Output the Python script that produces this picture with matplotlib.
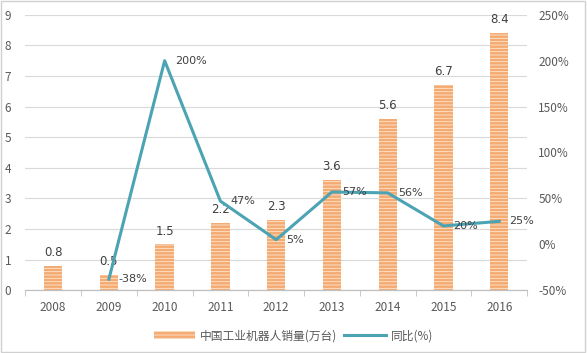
import matplotlib
matplotlib.use("Agg")
import matplotlib.pyplot as plt
import numpy as np
from matplotlib.patches import Rectangle

plt.rcParams['font.family'] = ['Noto Sans CJK SC', 'DejaVu Sans']
plt.rcParams['hatch.linewidth'] = 0.6

years = ['2008', '2009', '2010', '2011', '2012', '2013', '2014', '2015', '2016']
sales = [0.8, 0.5, 1.5, 2.2, 2.3, 3.6, 5.6, 6.7, 8.4]
growth_years = ['2009', '2010', '2011', '2012', '2013', '2014', '2015', '2016']
growth = [-38, 200, 47, 5, 57, 56, 20, 25]

bar_color = '#F4AA70'
line_color = '#4BA3B4'
text_color = '#595959'

fig = plt.figure(figsize=(5.87, 3.53), dpi=100)
ax = fig.add_axes([0.043, 0.178, 0.855, 0.78])
ax2 = ax.twinx()

x = np.arange(len(years))
bars = ax.bar(x, sales, width=0.33, color=bar_color, edgecolor='#FDE8D6',
              linewidth=0, hatch='-----', label='中国工业机器人销量(万台)', zorder=2)
for xi, v in zip(x, sales):
    ax.text(xi, v + 0.22, f'{v}', ha='center', va='bottom', fontsize=8.5,
            color='#404040', family=['DejaVu Sans'])

gx = [years.index(y) for y in growth_years]
line, = ax2.plot(gx, growth, color=line_color, lw=2.2, label='同比(%)', zorder=3)
for xi, v in zip(gx, growth):
    ax2.text(xi + 0.18, v, f'{v}%', ha='left', va='center', fontsize=8,
             color='#404040', family=['DejaVu Sans'])

ax.set_xlim(-0.5, len(years) - 0.5)
ax.set_ylim(0, 9)
ax2.set_ylim(-50, 250)
ax.set_yticks(range(0, 10))
ax2.set_yticks(range(-50, 251, 50))
ax2.set_yticklabels([f'{t}%' for t in range(-50, 251, 50)])
ax.set_xticks(x)
ax.set_xticklabels(years)
ax.set_xticks(np.arange(-0.5, len(years), 1), minor=True)

ax.grid(axis='y', color='#D9D9D9', lw=0.8, zorder=0)
ax.set_axisbelow(True)
for a in (ax, ax2):
    for s in ('top', 'left', 'right'):
        a.spines[s].set_visible(False)
    a.spines['bottom'].set_color('#BFBFBF')
    a.tick_params(colors=text_color, labelsize=8.5, length=0)
ax.tick_params(axis='x', which='minor', length=4, color='#BFBFBF')
ax.tick_params(axis='x', which='major', pad=8)
ax.tick_params(axis='y', pad=10)
ax2.tick_params(axis='y', pad=8)

fig.legend(handles=[bars, line], loc='lower center', bbox_to_anchor=(0.5, 0.0),
           ncol=2, frameon=False, fontsize=8.5, labelcolor=text_color,
           handlelength=3.5, columnspacing=0.6, handletextpad=0.4)

fig.patches.append(Rectangle((0.002, 0.003), 0.995, 0.994, transform=fig.transFigure,
                             fill=False, edgecolor='#D0D0D0', lw=1))

fig.savefig('out.png', dpi=100)
